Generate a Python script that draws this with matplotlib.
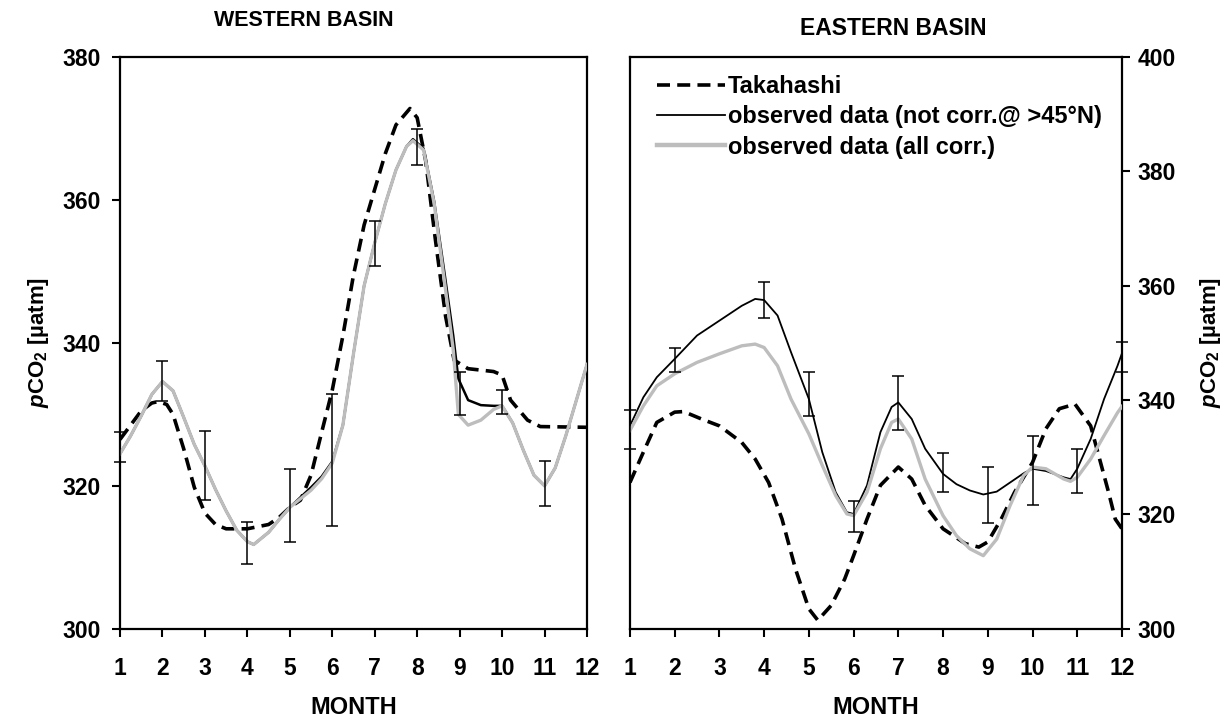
import numpy as np
import matplotlib.pyplot as plt
from matplotlib.lines import Line2D

plt.rcParams['font.family'] = ['Liberation Sans', 'DejaVu Sans']
plt.rcParams['font.weight'] = 'bold'
plt.rcParams['mathtext.fontset'] = 'custom'
plt.rcParams['mathtext.rm'] = 'Liberation Sans:bold'
plt.rcParams['mathtext.it'] = 'Liberation Sans:italic:bold'
plt.rcParams['mathtext.bf'] = 'Liberation Sans:bold'
plt.rcParams['mathtext.default'] = 'rm'

months = np.arange(1, 13)

# Western basin: Takahashi climatology
w_taka_month = [1.0, 1.25, 1.5, 1.75, 1.9, 2.1, 2.25, 2.5, 2.75, 3.0, 3.25, 3.5, 4.0, 4.5,
                4.75, 5.0, 5.25, 5.5, 5.75, 6.0, 6.25, 6.5, 6.75, 7.0, 7.25, 7.5, 7.83, 8.0,
                8.2, 8.43, 8.67, 8.87, 9.2, 9.8, 10.0, 10.2, 10.6, 10.9, 12.0]
w_taka = [326.5, 328.5, 330.5, 331.6, 331.8, 331.4, 330.0, 325.2, 319.8, 316.2, 314.6, 314.0,
          314.0, 314.6, 315.6, 317.0, 318.0, 321.5, 327.5, 333.4, 341.0, 349.5, 356.5, 361.5,
          366.5, 370.5, 372.8, 371.5, 365.5, 354.4, 343.7, 337.6, 336.4, 336.0, 335.5, 332.0,
          329.2, 328.3, 328.2]

# Western basin: observed data
w_obs_month = [1.0, 1.25, 1.5, 1.75, 2.0, 2.25, 2.5, 2.75, 3.0, 3.25, 3.5, 3.75, 4.0, 4.15,
               4.5, 4.75, 5.0, 5.25, 5.5, 5.75, 6.0, 6.25, 6.5, 6.75, 7.0, 7.25, 7.5, 7.75,
               7.9, 8.15, 8.4, 8.65, 8.85, 8.97, 9.2, 9.5, 9.8, 10.0, 10.25, 10.5, 10.75,
               11.0, 11.25, 11.5, 11.75, 12.0]
w_obs_nc = [324.5, 327.0, 329.8, 332.8, 334.6, 333.3, 329.6, 325.8, 322.8, 319.5, 316.5,
            313.8, 312.2, 311.8, 313.5, 315.3, 317.0, 318.4, 319.8, 321.3, 323.4, 328.5,
            338.5, 348.0, 354.0, 359.5, 364.2, 367.5, 368.5, 367.2, 359.8, 349.5, 341.0,
            335.0, 332.0, 331.3, 331.2, 331.2, 328.8, 325.0, 321.5, 320.0, 322.5, 327.0,
            332.0, 337.0]
w_obs_corr = [324.5, 327.0, 329.8, 332.8, 334.6, 333.3, 329.6, 325.8, 322.8, 319.5, 316.5,
              313.8, 312.2, 311.8, 313.5, 315.3, 317.0, 318.2, 319.4, 321.0, 323.2, 328.5,
              338.5, 348.0, 354.0, 359.5, 364.2, 367.5, 368.3, 367.0, 359.5, 348.3, 339.0,
              330.0, 328.5, 329.2, 330.7, 331.2, 328.8, 325.0, 321.5, 320.0, 322.5, 327.0,
              332.0, 337.0]
w_err_lo = [323.4, 331.9, 318.0, 309.1, 312.1, 314.4, 350.7, 364.9, 329.9, 330.1, 317.2, np.nan]
w_err_hi = [327.5, 337.5, 327.7, 315.0, 322.3, 332.8, 357.0, 369.9, 336.0, 333.4, 323.5, np.nan]

# Eastern basin: Takahashi climatology
e_taka_month = [1.0, 1.3, 1.6, 2.0, 2.2, 2.6, 3.0, 3.5, 3.8, 4.1, 4.4, 4.7, 5.0, 5.2, 5.5,
                5.8, 6.0, 6.3, 6.6, 7.0, 7.3, 7.6, 8.0, 8.5, 8.8, 9.0, 9.3, 9.6, 10.0, 10.3,
                10.6, 10.95, 11.3, 11.5, 11.7, 11.85, 12.0]
e_taka = [325.6, 330.9, 336.1, 337.9, 338.0, 336.7, 335.5, 332.6, 329.7, 325.6, 319.2, 310.5,
          303.5, 301.5, 304.1, 308.7, 312.8, 319.2, 325.1, 328.3, 326.2, 321.6, 317.5, 314.9,
          314.3, 315.2, 319.2, 323.9, 329.1, 335.0, 338.5, 339.3, 335.5, 329.7, 323.9, 319.2,
          317.5]

# Eastern basin: observed data
e_obs_month = [1.0, 1.3, 1.6, 2.0, 2.5, 3.0, 3.5, 3.8, 4.0, 4.3, 4.6, 5.0, 5.3, 5.6, 5.85,
               6.0, 6.3, 6.6, 6.85, 7.0, 7.3, 7.6, 8.0, 8.3, 8.6, 8.9, 9.2, 9.5, 9.8, 10.0,
               10.3, 10.7, 10.85, 11.0, 11.3, 11.6, 11.9, 12.0]
e_obs_nc = [335.5, 340.5, 344.0, 347.2, 351.3, 353.9, 356.5, 357.7, 357.5, 354.8, 348.4,
            340.2, 330.9, 323.9, 320.4, 320.1, 325.1, 334.4, 338.8, 339.6, 336.7, 331.5,
            327.1, 325.3, 324.2, 323.5, 324.0, 325.6, 327.2, 328.0, 327.6, 326.5, 326.2,
            328.0, 333.2, 340.2, 346.0, 348.2]
e_obs_corr = [334.7, 339.0, 342.5, 344.6, 346.6, 348.1, 349.5, 349.8, 349.2, 346.0, 340.2,
              334.1, 328.6, 323.3, 320.1, 319.8, 323.9, 331.5, 336.1, 336.7, 333.2, 326.2,
              319.8, 316.3, 314.0, 312.8, 315.7, 321.6, 326.8, 328.3, 328.0, 326.2, 325.8,
              326.5, 329.7, 333.8, 337.8, 338.9]
e_err_lo = [331.4, 345.0, np.nan, 354.4, 337.3, 317.0, 334.8, 324.0, 318.5, 321.6, 323.8, 345.0]
e_err_hi = [338.2, 349.1, np.nan, 360.7, 345.0, 322.3, 344.3, 330.7, 328.3, 333.8, 331.4, 350.2]

GREY = '#bdbdbd'
taka_style = dict(color='black', lw=2.6, dashes=(3.6, 2.0))
corr_style = dict(color=GREY, lw=2.4)
YLABEL = r'$\mathit{p}$CO$_2$ [µatm]'


def draw_panel(ax, taka_x, taka_y, obs_x, obs_nc, obs_corr, err_lo, err_hi, nc_lw):
    ax.plot(taka_x, taka_y, zorder=3, **taka_style)
    ax.plot(obs_x, obs_nc, color='black', lw=nc_lw, zorder=4, solid_joinstyle='round')
    ax.plot(obs_x, obs_corr, solid_joinstyle='round', zorder=5, **corr_style)
    lo = np.array(err_lo)
    hi = np.array(err_hi)
    ax.errorbar(months, (lo + hi) / 2, yerr=(hi - lo) / 2, fmt='none',
                ecolor='black', elinewidth=1.1, capsize=4, capthick=1.1, zorder=6,
                clip_on=False)
    ax.set_xlim(1, 12)
    ax.set_xticks(months)
    ax.set_xlabel('MONTH', fontsize=17, fontweight='bold', labelpad=12)
    for sp in ax.spines.values():
        sp.set_linewidth(1.6)
    ax.tick_params(direction='out', length=6, width=1.5, labelsize=16.5)
    ax.tick_params(axis='x', pad=14)


fig = plt.figure(figsize=(12.27, 7.22), dpi=100)
ax_w = fig.add_axes([0.0978, 0.129, 0.3806, 0.792])
ax_e = fig.add_axes([0.5134, 0.129, 0.4010, 0.792])

draw_panel(ax_w, w_taka_month, w_taka, w_obs_month, w_obs_nc, w_obs_corr,
           w_err_lo, w_err_hi, 1.8)
ax_w.set_ylim(300, 380)
ax_w.set_yticks(np.arange(300, 381, 20))
ax_w.tick_params(axis='y', pad=8)
ax_w.set_ylabel(YLABEL, fontsize=16, fontweight='bold', labelpad=8)

draw_panel(ax_e, e_taka_month, e_taka, e_obs_month, e_obs_nc, e_obs_corr,
           e_err_lo, e_err_hi, 1.3)
ax_e.set_ylim(300, 400)
ax_e.set_yticks(np.arange(300, 401, 20))
ax_e.yaxis.tick_right()
ax_e.yaxis.set_label_position('right')
ax_e.tick_params(axis='y', pad=5)
ax_e.set_ylabel(YLABEL, fontsize=16, fontweight='bold', labelpad=16)

fig.text(0.248, 0.971, 'WESTERN BASIN', ha='center', va='center', fontsize=15.5, fontweight='bold')
fig.text(0.728, 0.961, 'EASTERN BASIN', ha='center', va='center', fontsize=16.5, fontweight='bold')

handles = [Line2D([], [], **taka_style),
           Line2D([], [], color='black', lw=1.3),
           Line2D([], [], color=GREY, lw=3.2)]
labels = ['Takahashi', 'observed data (not corr.@ >45°N)', 'observed data (all corr.)']
ax_e.legend(handles, labels, loc='upper left', bbox_to_anchor=(0.055, 0.968), frameon=False,
            prop={'size': 17, 'weight': 'bold'}, handlelength=2.9, handletextpad=0.1,
            labelspacing=0.3, borderaxespad=0, borderpad=0)

fig.savefig('out.png', dpi=100)
